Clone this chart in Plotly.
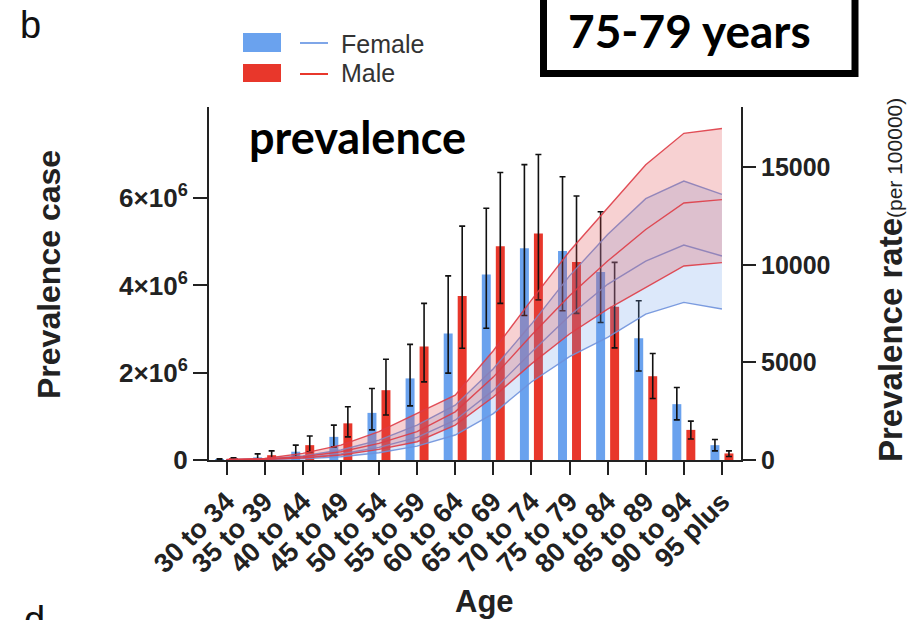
import plotly.graph_objects as go

# ---------------- data ----------------
ages = ["30 to 34", "35 to 39", "40 to 44", "45 to 49", "50 to 54", "55 to 59", "60 to 64",
        "65 to 69", "70 to 74", "75 to 79", "80 to 84", "85 to 89", "90 to 94", "95 plus"]

# prevalence cases (millions)
female_case = [0.02, 0.06, 0.19, 0.53, 1.08, 1.87, 2.90, 4.25, 4.85, 4.79, 4.31, 2.79, 1.28, 0.34]
female_case_lo = [0.01, 0.02, 0.08, 0.30, 0.69, 1.24, 1.99, 3.02, 3.31, 3.42, 3.15, 2.04, 0.92, 0.21]
female_case_hi = [0.03, 0.14, 0.34, 0.80, 1.64, 2.65, 4.22, 5.77, 6.77, 6.49, 5.69, 3.65, 1.66, 0.47]
male_case = [0.03, 0.11, 0.34, 0.84, 1.60, 2.60, 3.76, 4.90, 5.19, 4.54, 3.51, 1.92, 0.69, 0.15]
male_case_lo = [0.01, 0.02, 0.19, 0.53, 1.03, 1.79, 2.56, 3.59, 3.67, 3.36, 2.57, 1.41, 0.48, 0.08]
male_case_hi = [0.05, 0.21, 0.55, 1.22, 2.31, 3.59, 5.36, 6.59, 7.00, 6.05, 4.53, 2.44, 0.89, 0.21]

# prevalence rate (per 100000)
female_rate = [10, 30, 120, 306, 646, 1160, 2040, 3570, 5530, 7400, 9010, 10200, 11020, 10460]
female_rate_lo = [5, 15, 60, 170, 374, 714, 1280, 2380, 4000, 5300, 6290, 7480, 8080, 7740]
female_rate_hi = [20, 50, 204, 510, 1020, 1790, 2810, 4680, 6970, 9440, 11560, 13400, 14300, 13620]
male_rate = [15, 50, 170, 425, 850, 1450, 2470, 4250, 6400, 8420, 10200, 11820, 13180, 13350]
male_rate_lo = [8, 30, 100, 255, 545, 935, 1790, 3230, 4930, 6460, 7740, 8840, 9950, 10120]
male_rate_hi = [30, 80, 340, 765, 1450, 2380, 3320, 5600, 8200, 10700, 12900, 15140, 16750, 17000]

left_tickvals = [0, 2e6, 4e6, 6e6]
left_ticktext = ["0", "2×10<sup>6</sup>", "4×10<sup>6</sup>", "6×10<sup>6</sup>"]
right_tickvals = [0, 5000, 10000, 15000]
right_ticktext = ["0", "5000", "10000", "15000"]

# ---------------- styles ----------------
BLUE = "#6aa2ee"
RED = "#e8372b"
AX = "#222222"
FONT = "Liberation Sans, Arial, sans-serif"
SCALE = 1e6

def scaled(v):
    return [x * SCALE for x in v]

fc, fl, fh = scaled(female_case), scaled(female_case_lo), scaled(female_case_hi)
mc, ml, mh = scaled(male_case), scaled(male_case_lo), scaled(male_case_hi)

fig = go.Figure()

fig.add_trace(go.Bar(
    x=ages, y=fc, name="Female", marker=dict(color=BLUE, line=dict(width=0)), showlegend=False,
    error_y=dict(type="data", symmetric=False,
                 array=[h - v for h, v in zip(fh, fc)],
                 arrayminus=[v - l for v, l in zip(fc, fl)],
                 color="#111111", thickness=1.6, width=3),
))
fig.add_trace(go.Bar(
    x=ages, y=mc, name="Male", marker=dict(color=RED, line=dict(width=0)), showlegend=False,
    error_y=dict(type="data", symmetric=False,
                 array=[h - v for h, v in zip(mh, mc)],
                 arrayminus=[v - l for v, l in zip(mc, ml)],
                 color="#111111", thickness=1.6, width=3),
))

# rate bands (secondary axis)
BLUE_LINE = "rgba(110,145,220,0.9)"
RED_LINE = "rgba(222,60,70,0.9)"
fig.add_trace(go.Scatter(x=ages, y=female_rate_lo, yaxis="y2", mode="lines",
                         line=dict(color=BLUE_LINE, width=1.4), showlegend=False))
fig.add_trace(go.Scatter(x=ages, y=female_rate_hi, yaxis="y2", mode="lines", fill="tonexty",
                         fillcolor="rgba(110,160,235,0.24)",
                         line=dict(color=BLUE_LINE, width=1.4), showlegend=False))
fig.add_trace(go.Scatter(x=ages, y=female_rate, yaxis="y2", mode="lines",
                         line=dict(color=BLUE_LINE, width=1.4), showlegend=False))
fig.add_trace(go.Scatter(x=ages, y=male_rate_lo, yaxis="y2", mode="lines",
                         line=dict(color=RED_LINE, width=1.4), showlegend=False))
fig.add_trace(go.Scatter(x=ages, y=male_rate_hi, yaxis="y2", mode="lines", fill="tonexty",
                         fillcolor="rgba(225,70,75,0.25)",
                         line=dict(color=RED_LINE, width=1.4), showlegend=False))
fig.add_trace(go.Scatter(x=ages, y=male_rate, yaxis="y2", mode="lines",
                         line=dict(color=RED_LINE, width=1.4), showlegend=False))

W, H = 909, 620
L, R, T, B = 209, 168, 107, 160
PW, PH = W - L - R, H - T - B

def px(xp):
    return (xp - L) / PW

def py(yp):
    return (H - B - yp) / PH

tickfont = dict(family=FONT, size=25, color=AX, weight="bold")

fig.update_layout(
    width=W, height=H, autosize=False,
    margin=dict(l=L, r=R, t=T, b=B, pad=0),
    paper_bgcolor="white", plot_bgcolor="white",
    barmode="group", bargap=0.265, bargroupgap=0.36,
    showlegend=False,
    xaxis=dict(type="category", range=[-0.46, 13.5], showgrid=False, zeroline=False,
               showline=True, linecolor=AX, linewidth=2,
               ticks="outside", ticklen=13, tickwidth=2, tickcolor=AX,
               tickangle=-45, tickfont=dict(family=FONT, size=27, color=AX, weight="bold")),
    yaxis=dict(range=[0, 8.09e6], showgrid=False, zeroline=False,
               showline=True, linecolor=AX, linewidth=2,
               ticks="outside", ticklen=14, tickwidth=2, tickcolor=AX,
               tickvals=left_tickvals, ticktext=left_ticktext,
               tickfont=dict(family=FONT, size=26, color=AX, weight="bold")),
    yaxis2=dict(range=[0, 18100], overlaying="y", side="right", showgrid=False, zeroline=False,
                showline=True, linecolor=AX, linewidth=2,
                ticks="outside", ticklen=13, tickwidth=2, tickcolor=AX,
                tickvals=right_tickvals, ticktext=right_ticktext, tickfont=tickfont),
)

ann = []
# axis titles
ann.append(dict(text="Prevalence case", x=px(49), y=py(275), xref="paper", yref="paper",
                textangle=-90, showarrow=False, xanchor="center", yanchor="middle",
                font=dict(family=FONT, size=32, color=AX, weight="bold")))
ann.append(dict(text="Prevalence rate<span style='font-size:21px;font-weight:normal'>(per 100000)</span>",
                x=px(890), y=py(280), xref="paper", yref="paper",
                textangle=-90, showarrow=False, xanchor="center", yanchor="middle",
                font=dict(family=FONT, size=33, color=AX, weight="bold")))
ann.append(dict(text="Age", x=px(484), y=py(601), xref="paper", yref="paper",
                showarrow=False, xanchor="center", yanchor="middle",
                font=dict(family=FONT, size=31, color=AX, weight="bold")))
# panel labels
ann.append(dict(text="b", x=px(30), y=py(25), xref="paper", yref="paper", showarrow=False,
                xanchor="center", yanchor="middle", font=dict(family=FONT, size=38, color="#111")))
ann.append(dict(text="d", x=px(34), y=py(597), xref="paper", yref="paper", showarrow=False,
                xanchor="center", yanchor="top", font=dict(family=FONT, size=38, color="#111")))
# in-plot text
ann.append(dict(text="prevalence", x=px(357), y=py(137), xref="paper", yref="paper", showarrow=False,
                xanchor="center", yanchor="middle",
                font=dict(family="Lato, Open Sans, sans-serif", size=45, color="black", weight="bold")))
ann.append(dict(text="75-79 years", x=px(689), y=py(31), xref="paper", yref="paper", showarrow=False,
                xanchor="center", yanchor="middle",
                font=dict(family="Lato, Open Sans, sans-serif", size=46, color="black", weight="bold")))
# legend text
ann.append(dict(text="Female", x=px(339), y=py(44), xref="paper", yref="paper", showarrow=False,
                xanchor="left", yanchor="middle", font=dict(family=FONT, size=25, color="#333")))
ann.append(dict(text="Male", x=px(339), y=py(73), xref="paper", yref="paper", showarrow=False,
                xanchor="left", yanchor="middle", font=dict(family=FONT, size=25, color="#333")))

shapes = []
# legend swatches
shapes.append(dict(type="rect", xref="paper", yref="paper", x0=px(243), x1=px(281), y0=py(52), y1=py(33),
                   fillcolor=BLUE, line=dict(width=0)))
shapes.append(dict(type="rect", xref="paper", yref="paper", x0=px(243), x1=px(281), y0=py(82), y1=py(64),
                   fillcolor=RED, line=dict(width=0)))
shapes.append(dict(type="line", xref="paper", yref="paper", x0=px(300), x1=px(328), y0=py(43), y1=py(43),
                   line=dict(color="#7fa6e8", width=2)))
shapes.append(dict(type="line", xref="paper", yref="paper", x0=px(300), x1=px(328), y0=py(74), y1=py(74),
                   line=dict(color=RED, width=2)))
# framed box top-right
shapes.append(dict(type="rect", xref="paper", yref="paper", x0=px(543.5), x1=px(855), y0=py(73.5), y1=py(-20),
                   fillcolor="rgba(0,0,0,0)", line=dict(color="black", width=7)))

fig.update_layout(annotations=ann, shapes=shapes)

fig.write_html("out.html")
